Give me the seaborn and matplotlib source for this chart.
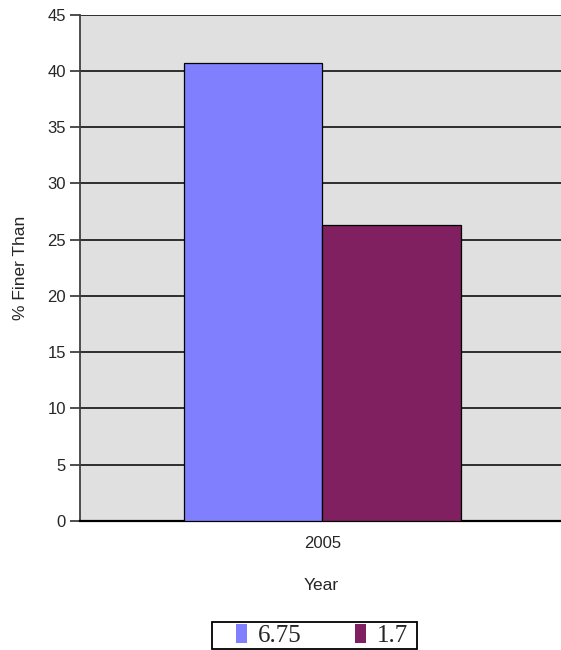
import matplotlib
matplotlib.use('Agg')
import matplotlib.pyplot as plt
import seaborn as sns
import pandas as pd
from matplotlib.patches import Rectangle

# data
years = ['2005']
series = ['6.75', '1.7']
values = [40.7, 26.3]
colors = ['#8080FF', '#802060']

df = pd.DataFrame({'Year': years * len(series), 'size': series, 'pct': values})

sns.set_style('white')
plt.rcParams['font.family'] = ['Liberation Sans', 'DejaVu Sans']

W, H = 561, 650
fig = plt.figure(figsize=(W / 100, H / 100), dpi=100)
ax = fig.add_axes([80 / W, 129 / H, 483 / W, 506.3 / H])
ax.set_facecolor('#E0E0E0')

sns.barplot(data=df, x='Year', y='pct', hue='size', palette=colors, saturation=1,
            width=0.573, edgecolor='black', linewidth=0.9, ax=ax, zorder=3)

ax.set_ylim(0, 45)
ax.set_yticks(range(0, 46, 5))
ax.set_xlim(-0.5, 0.496)
ax.grid(axis='y', color='#202020', linewidth=1.3, zorder=1)
ax.set_axisbelow(True)

for s in ['top', 'right']:
    ax.spines[s].set_visible(False)
ax.spines['left'].set_color('#404040')
ax.spines['left'].set_linewidth(1.3)
ax.spines['bottom'].set_color('black')
ax.spines['bottom'].set_linewidth(1.6)

ax.tick_params(axis='y', left=True, length=7, width=1.3, color='#404040',
               labelsize=12, pad=3)
ax.tick_params(axis='x', bottom=False, labelsize=12, pad=7)

ax.set_ylabel('% Finer Than', fontsize=12.5, labelpad=14)
ax.set_xlabel('Year', fontsize=12.5, labelpad=20)

# legend box at the bottom
ax.legend_.remove()
handles, labels = ax.get_legend_handles_labels()
leg = fig.legend(handles, labels, loc='center', bbox_to_anchor=(322 / W, 1 - 635.5 / H),
                 ncol=2, frameon=False,
                 prop={'family': 'Liberation Serif', 'size': 18},
                 handlelength=0.45, handleheight=0.8, handletextpad=0.45,
                 columnspacing=2.1, borderpad=0.1, borderaxespad=0)
for h in leg.legend_handles:
    h.set_edgecolor('none')
fig.patches.append(Rectangle((212 / W, 1 - 649 / H), 205 / W, 27 / H,
                             transform=fig.transFigure, facecolor='white',
                             edgecolor='black', linewidth=1.3, zorder=0))

fig.savefig('out.png', dpi=100)
